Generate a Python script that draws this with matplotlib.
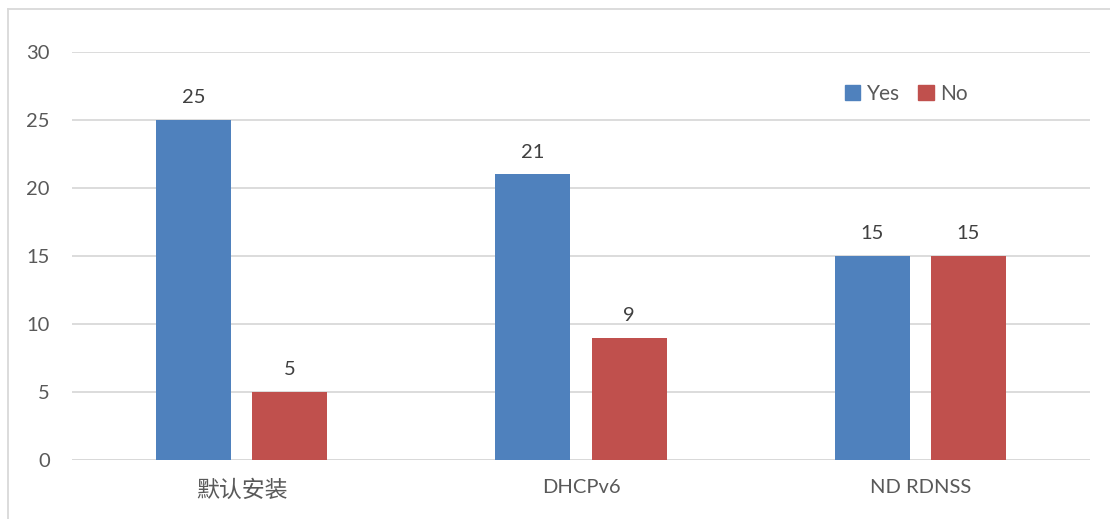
import matplotlib
matplotlib.use("Agg")
import matplotlib.pyplot as plt
import numpy as np
from matplotlib.lines import Line2D
from matplotlib.patches import Patch

plt.rcParams['font.family'] = ['Lato', 'Noto Sans CJK SC', 'DejaVu Sans']

categories = ["默认安装", "DHCPv6", "ND RDNSS"]
yes_vals = [25, 21, 15]
no_vals = [5, 9, 15]
y_ticks = [0, 5, 10, 15, 20, 25, 30]

BLUE = "#4F81BD"
RED = "#C0504D"
TEXT = "#595959"
GRID = "#D9D9D9"

fig = plt.figure(figsize=(11.1, 5.19), dpi=100)
ax = fig.add_axes([0.0649, 0.1137, 0.9171, 0.7861])

x = np.arange(len(categories))
w = 0.221
off = 0.142
b1 = ax.bar(x - off, yes_vals, w, color=BLUE, label="Yes", zorder=3)
b2 = ax.bar(x + off, no_vals, w, color=RED, label="No", zorder=3)

for bars in (b1, b2):
    for rect in bars:
        h = rect.get_height()
        ax.annotate(f"{h:g}", (rect.get_x() + rect.get_width() / 2, h),
                    xytext=(0, 10), textcoords="offset points",
                    ha="center", va="bottom", fontsize=14.5, color="#404040")

ax.set_xlim(-0.5, 2.5)
ax.set_ylim(0, 30)
ax.set_yticks(y_ticks)
ax.set_xticks(x)
ax.set_xticklabels(categories)
ax.tick_params(axis="both", length=0, labelsize=14.5, labelcolor=TEXT)
ax.tick_params(axis="y", pad=16)
ax.tick_params(axis="x", pad=14)
# the Chinese glyphs render smaller at the same size, bump that one label
ax.get_xticklabels()[0].set_fontsize(16.5)
ax.yaxis.grid(True, color=GRID, linewidth=1.3, zorder=0)
ax.set_axisbelow(True)
for s in ax.spines.values():
    s.set_visible(False)
ax.axhline(0, color=GRID, linewidth=1.3, zorder=2)

handles = [Patch(color=BLUE), Patch(color=RED)]
fig.legend(handles, ["Yes", "No"], loc="center left",
           bbox_to_anchor=(0.761, 0.819), ncol=2, frameon=False,
           handlelength=0.75, handleheight=0.75, handletextpad=0.3,
           columnspacing=0.9, borderpad=0, borderaxespad=0,
           fontsize=15, labelcolor=TEXT)

# outer chart frame (top and left edges)
top = 1 - 9 / 519
left = 8 / 1110
fig.add_artist(Line2D([left, 1], [top, top], color=GRID, linewidth=1.3,
                      transform=fig.transFigure))
fig.add_artist(Line2D([left, left], [0, top], color=GRID, linewidth=1.3,
                      transform=fig.transFigure))

fig.savefig("out.png", dpi=100)
